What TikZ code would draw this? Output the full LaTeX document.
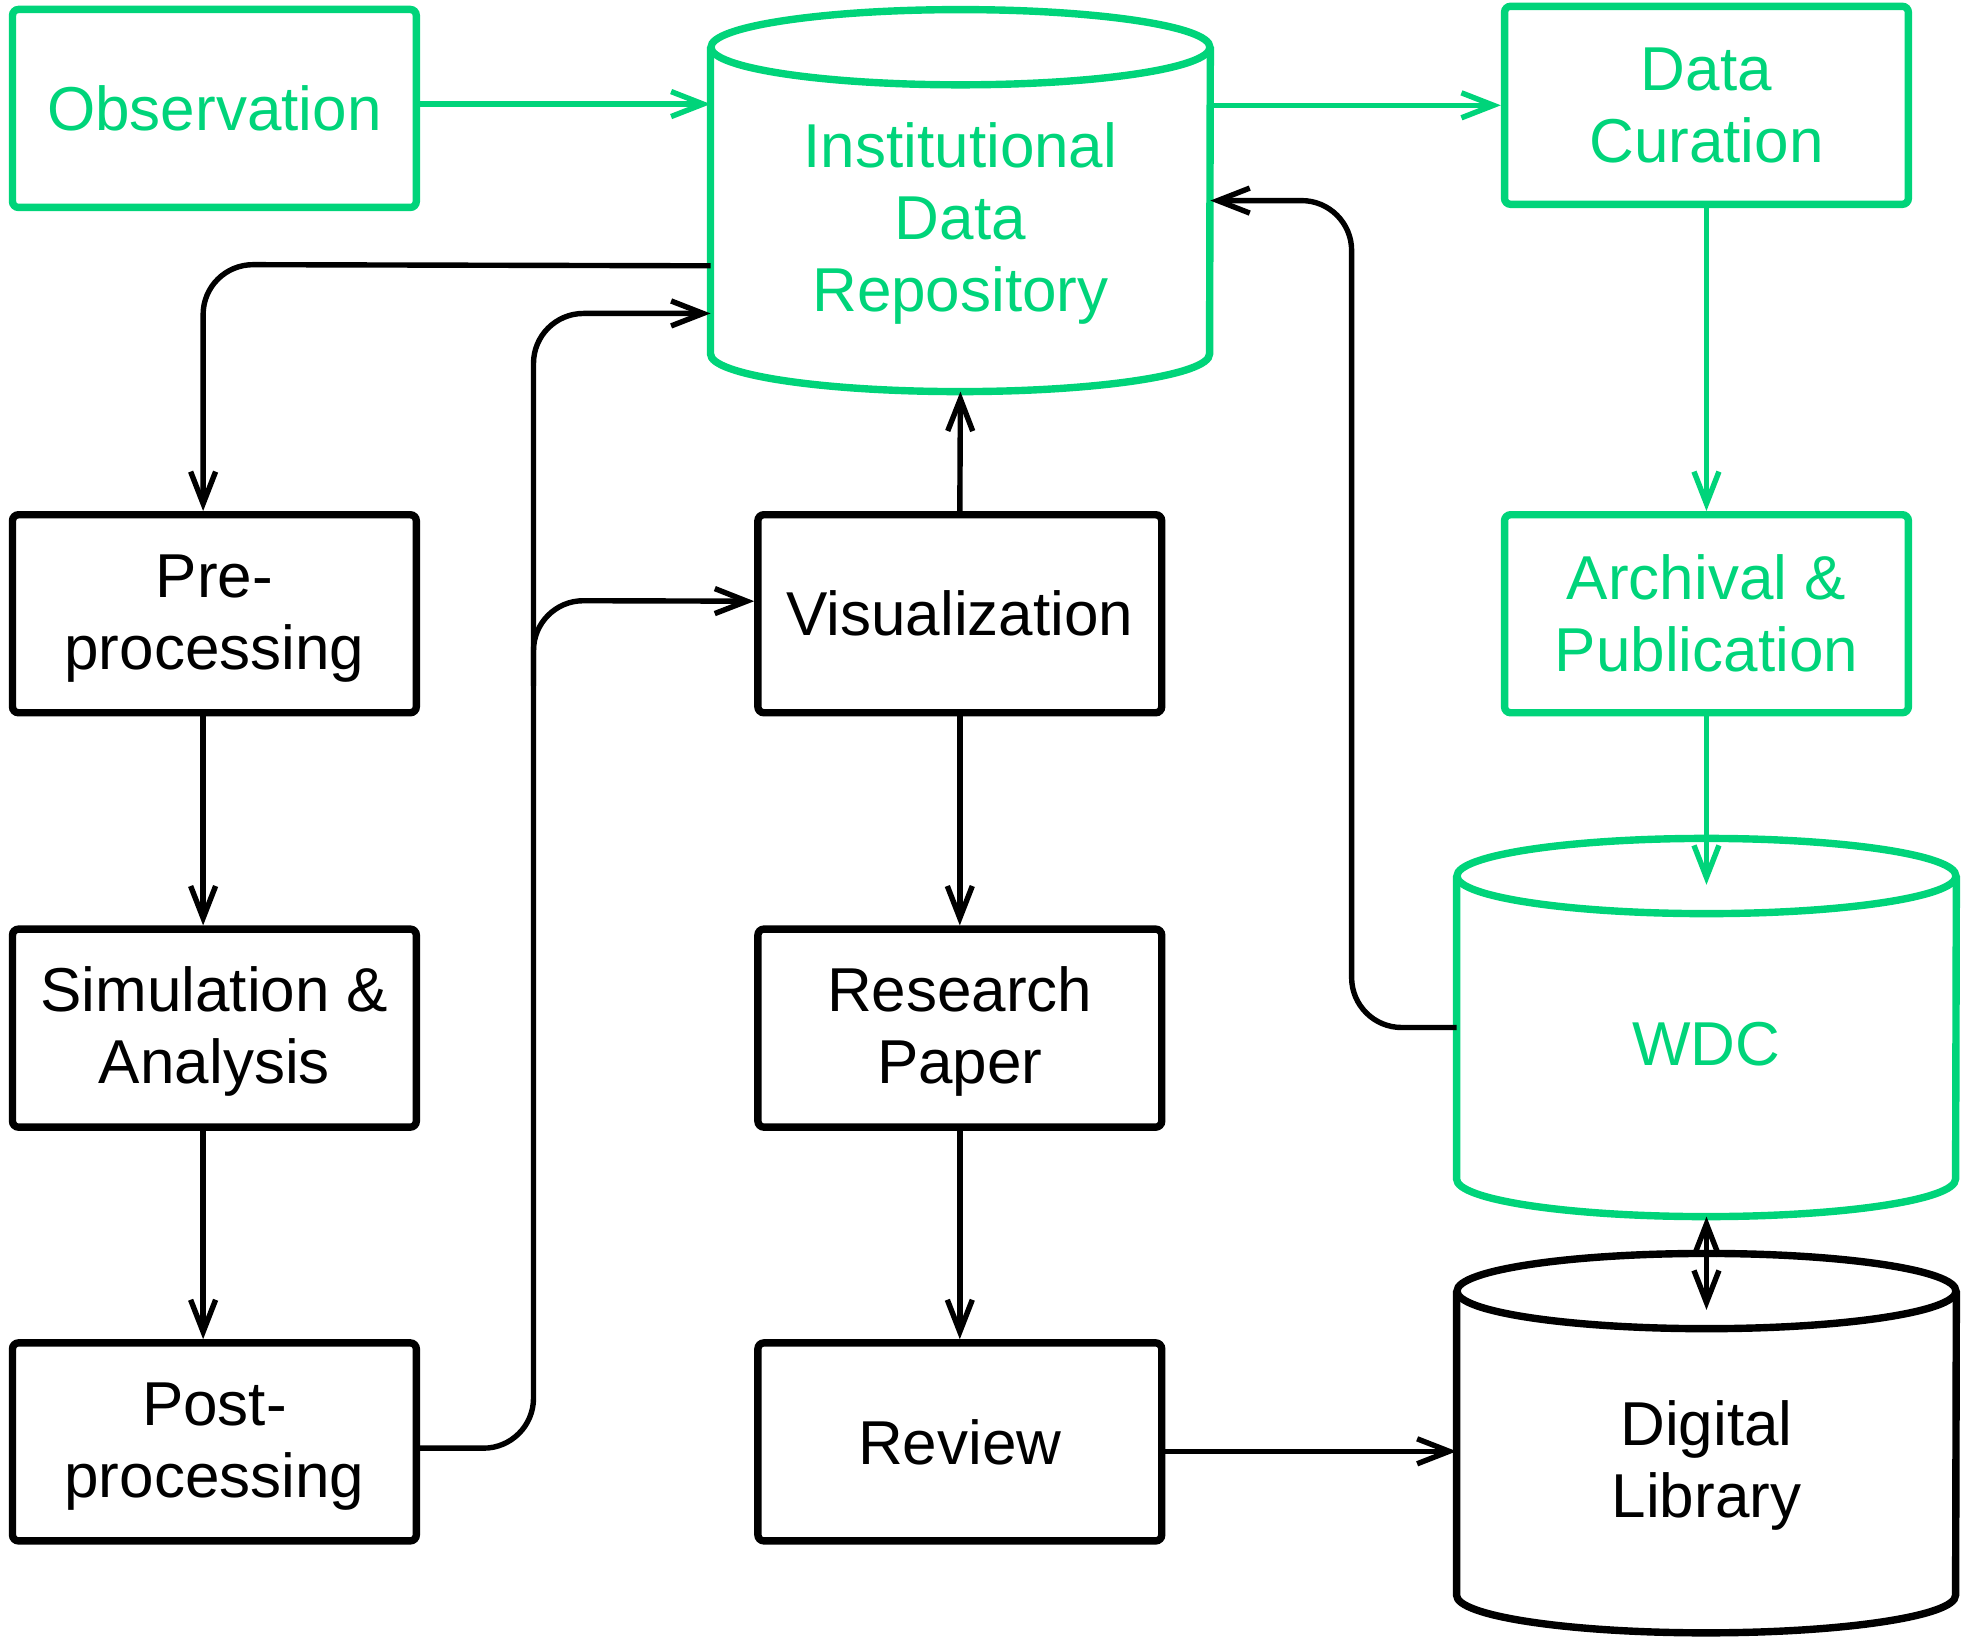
\documentclass[tikz,border=0pt]{standalone}
\usepackage{fontspec}
\setmainfont{Liberation Sans}
\usetikzlibrary{arrows.meta,calc,positioning}
\definecolor{grn}{RGB}{0,212,122}
\newcommand\bigf{\fontsize{31pt}{36pt}\selectfont}
\newcommand\mlt[1]{\raisebox{-2.5pt}[\height][\depth]{\begin{tabular}{@{}c@{}}#1\end{tabular}}}
\newcommand\drawcyl[2]{%
  \draw[#2, line width=3.7pt] ($(#1.north west)+(0,-30)$) -- ($(#1.south west)+(0,30)$)
    arc[start angle=180,end angle=360,x radius=199,y radius=30] -- ($(#1.north east)+(0,-30)$);
  \draw[#2, line width=3.7pt] ($(#1.north)+(0,-30)$) ellipse[x radius=199,y radius=30];
}
\tikzset{
  box/.style={draw, line width=3.7pt, rounded corners=3pt, minimum width=201.9pt, minimum height=99pt, align=center, font=\bigf, inner sep=2pt},
  gbox/.style={box, draw=grn, text=grn},
  kbox/.style={box, draw=black, text=black},
  cylbox/.style={draw=none, minimum width=249.5pt, inner sep=0pt},
  cyllabel/.style={align=center, font=\bigf, inner sep=0pt},
  conn/.style={line width=2.7pt, -{Straight Barb[length=16pt,width=12.5pt]}},
  gconn/.style={conn, draw=grn},
  kconn/.style={conn, draw=black},
}
\begin{document}
\begin{tikzpicture}[x=0.6269pt,y=0.6269pt]
\useasboundingbox (0,0) rectangle (1568,1307);
% boxes
\node[gbox] (obs)  at (171,1220.5) {Observation};
\node[gbox] (dc)   at (1361,1223) {Data\\Curation};
\node[kbox] (pre)  at (171,817.5) {\mlt{Pre-\\processing}};
\node[kbox] (vis)  at (765.5,817.5) {Visualization};
\node[gbox] (arch) at (1361,817.5) {Archival \&\\Publication};
\node[kbox] (sim)  at (171,487) {\mlt{Simulation \&\\Analysis}};
\node[kbox] (rp)   at (765.5,487) {\mlt{Research\\Paper}};
\node[kbox] (post) at (171,157) {\mlt{Post-\\processing}};
\node[kbox] (rev)  at (765.5,157) {Review};
% cylinders
\node[cylbox, minimum height=190.6pt] (idr) at (766,1147) {};
\node[cylbox, minimum height=188.7pt] (wdc) at (1361,487.5) {};
\node[cylbox, minimum height=189.3pt] (dl)  at (1361,156) {};
\drawcyl{idr}{grn}
\drawcyl{wdc}{grn}
\drawcyl{dl}{black}
\node[cyllabel, text=grn] (idrlabel) at (766,1128.5) {Institutional\\Data\\Repository};
\node[cyllabel, text=grn] (wdclabel) at (1361,474) {WDC};
\node[cyllabel, text=black] (dllabel) at (1361,138.5) {Digital\\Library};
% green connectors
\coordinate (obsout) at ($(obs.east)+(0,3.5)$);
\draw[gconn] (obsout) -- (obsout -| idr.west);
\draw[gconn] (idr.east |- dc.west) -- (dc.west);
\draw[gconn] (dc.south) -- (arch.north);
\coordinate (wdcin) at ($(wdc.north)+(0,-37)$);
\draw[gconn] (arch.south) -- (wdcin);
% black connectors
\coordinate (dlin) at ($(dl.north)+(0,-45)$);
\draw[line width=2.7pt, {Straight Barb[length=16pt,width=12.5pt]}-{Straight Barb[length=16pt,width=12.5pt]}] (wdc.south) -- (dlin);
\coordinate (idrout) at ($(idr.west)+(0,-52)$);
\coordinate (prein) at ($(pre.north)+(-9,0)$);
\draw[kconn, rounded corners=25pt] (idrout) -- (162,1096) -- (prein);
\draw[kconn] ($(pre.south)+(-9,0)$) -- ($(sim.north)+(-9,0)$);
\draw[kconn] ($(sim.south)+(-9,0)$) -- ($(post.north)+(-9,0)$);
\coordinate (postout) at ($(post.east)+(0,-5)$);
\coordinate (idrin) at ($(idr.west)+(0,-90)$);
\draw[kconn, rounded corners=25pt] (postout) -- (425.5,152) -- (425.5,1057) -- (idrin);
\coordinate (visin) at ($(vis.west)+(0,10)$);
\draw[kconn, rounded corners=25pt] (425.5,760) -- (425.5,828) -- (visin);
\draw[kconn] (vis.north) -- (idr.south);
\draw[kconn] (vis.south) -- (rp.north);
\draw[kconn] (rp.south) -- (rev.north);
\coordinate (revout) at ($(rev.east)+(0,-7.5)$);
\draw[kconn] (revout) -- (revout -| dl.west);
\draw[kconn, rounded corners=25pt] (wdc.west) -- (1078,487.5) -- (1078,1147) -- (idr.east);
\end{tikzpicture}
\end{document}
